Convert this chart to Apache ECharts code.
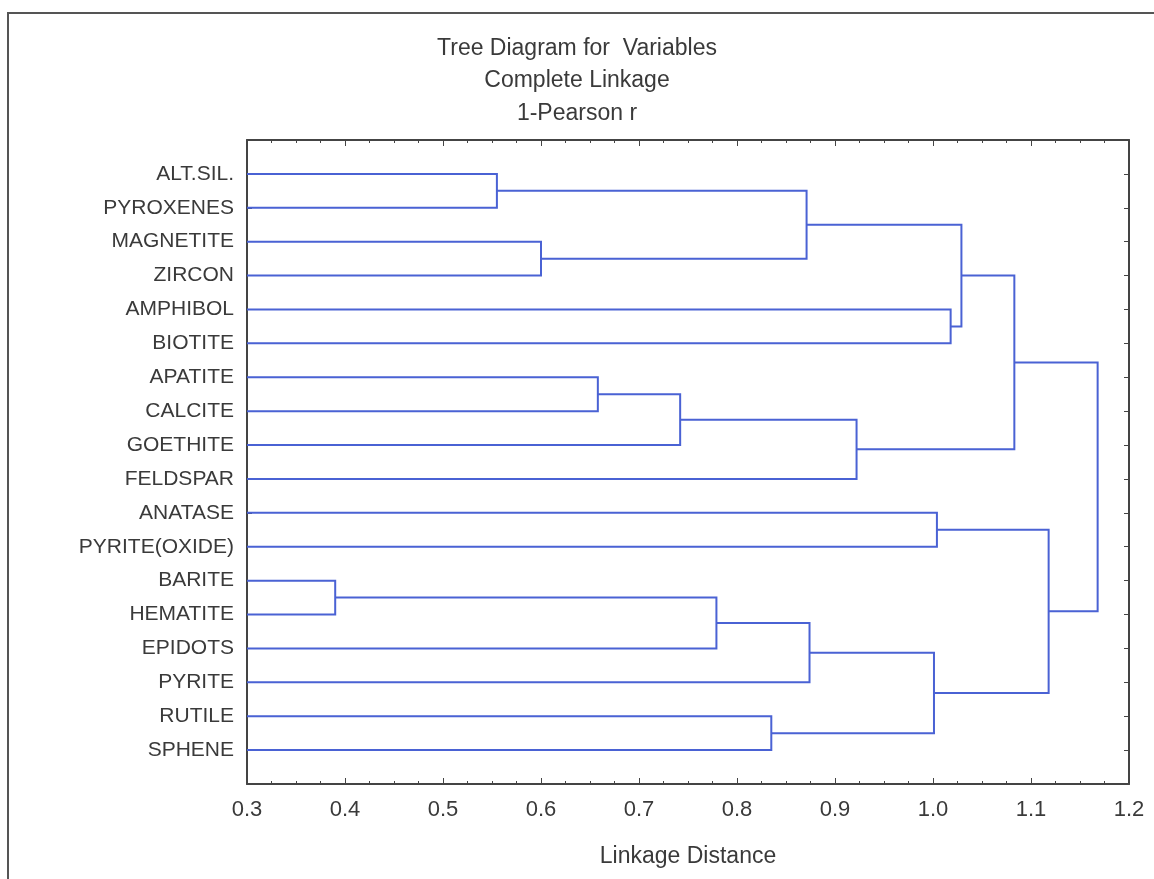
<!DOCTYPE html>
<html>
<head>
<meta charset="utf-8">
<script src="https://cdn.jsdelivr.net/npm/echarts@6/dist/echarts.min.js"></script>
<style>
  html, body { margin: 0; padding: 0; background: #fff; }
  #chart { width: 1154px; height: 879px; }
</style>
</head>
<body>
<div id="chart"></div>
<script>
// Leaves (top to bottom)
const leaves = ['ALT.SIL.', 'PYROXENES', 'MAGNETITE', 'ZIRCON', 'AMPHIBOL', 'BIOTITE',
  'APATITE', 'CALCITE', 'GOETHITE', 'FELDSPAR', 'ANATASE', 'PYRITE(OXIDE)',
  'BARITE', 'HEMATITE', 'EPIDOTS', 'PYRITE', 'RUTILE', 'SPHENE'];

// Merges: node ids 0..17 are leaves, merge i creates node 18+i
const mergeLeft   = [0, 2, 18, 4, 20, 6, 23, 24, 22, 10, 12, 28, 29, 16, 30, 27, 26];
const mergeRight  = [1, 3, 19, 5, 21, 7, 8, 9, 25, 11, 13, 14, 15, 17, 31, 32, 33];
const mergeHeight = [0.555, 0.600, 0.871, 1.018, 1.029, 0.658, 0.742, 0.922, 1.083,
  1.004, 0.390, 0.779, 0.874, 0.835, 1.001, 1.118, 1.168];

const xTicks = [0.3, 0.4, 0.5, 0.6, 0.7, 0.8, 0.9, 1.0, 1.1, 1.2];
const xMin = xTicks[0], xMax = xTicks[xTicks.length - 1];

// Build node positions
const nodeH = [], nodeY = [];
leaves.forEach((l, i) => { nodeH[i] = xMin; nodeY[i] = i; });
const segData = [];
mergeHeight.forEach((h, i) => {
  const a = mergeLeft[i], b = mergeRight[i];
  const id = leaves.length + i;
  nodeH[id] = h;
  nodeY[id] = (nodeY[a] + nodeY[b]) / 2;
  segData.push([nodeH[a], nodeY[a], h, nodeY[b], nodeH[b]]);
});

const textColor = '#3a3a3a';
const axisColor = '#444';
const font = 'Liberation Sans, Arial, sans-serif';
const lineColor = '#4a62d4';

const chart = echarts.init(document.getElementById('chart'));
chart.setOption({
  animation: false,
  backgroundColor: '#fff',
  title: {
    text: 'Tree Diagram for  Variables\nComplete Linkage\n1-Pearson r',
    left: 'center',
    top: 27,
    textStyle: { fontFamily: font, fontSize: 23, fontWeight: 'normal', color: textColor, lineHeight: 32.5 }
  },
  graphic: [{
    type: 'rect',
    shape: { x: 8, y: 13, width: 1160, height: 880 },
    style: { fill: 'none', stroke: '#555', lineWidth: 2 },
    silent: true
  }],
  grid: { left: 247, right: 25, top: 140, bottom: 95 },
  xAxis: [{
    type: 'value', min: xMin, max: xMax, interval: 0.1,
    position: 'bottom',
    name: 'Linkage Distance', nameLocation: 'middle', nameGap: 61,
    nameTextStyle: { fontFamily: font, fontSize: 23, color: textColor },
    axisLine: { show: true, onZero: false, lineStyle: { color: axisColor, width: 2 } },
    axisTick: { show: true, inside: true, length: 6, lineStyle: { color: axisColor } },
    minorTick: { show: true, splitNumber: 4, length: 3, lineStyle: { color: axisColor } },
    axisLabel: { margin: 15, fontFamily: font, fontSize: 22, color: textColor,
      formatter: v => v.toFixed(1) },
    splitLine: { show: false }
  }, {
    type: 'value', min: xMin, max: xMax, interval: 0.1,
    position: 'top',
    axisLine: { show: true, onZero: false, lineStyle: { color: axisColor, width: 2 } },
    axisTick: { show: true, inside: true, length: 6, lineStyle: { color: axisColor } },
    minorTick: { show: true, splitNumber: 4, length: 3, lineStyle: { color: axisColor } },
    axisLabel: { show: false },
    splitLine: { show: false }
  }],
  yAxis: [{
    type: 'value', min: -1, max: leaves.length, interval: 1, inverse: true,
    position: 'left',
    axisLine: { show: true, onZero: false, lineStyle: { color: axisColor, width: 2 } },
    axisTick: { show: true, inside: true, length: 5, lineStyle: { color: axisColor } },
    axisLabel: { margin: 13, fontFamily: font, fontSize: 21, color: textColor,
      formatter: v => (leaves[v] !== undefined ? leaves[v] : '') },
    splitLine: { show: false }
  }, {
    type: 'value', min: -1, max: leaves.length, interval: 1, inverse: true,
    position: 'right',
    axisLine: { show: true, onZero: false, lineStyle: { color: axisColor, width: 2 } },
    axisTick: { show: true, inside: true, length: 5, lineStyle: { color: axisColor } },
    axisLabel: { show: false },
    splitLine: { show: false }
  }],
  series: [{
    type: 'custom',
    xAxisIndex: 0, yAxisIndex: 0,
    data: segData,
    encode: { x: [0, 2, 4], y: [1, 3] },
    renderItem: (params, api) => {
      const hA = api.value(0), yA = api.value(1), hM = api.value(2), yB = api.value(3), hB = api.value(4);
      const pts = [api.coord([hA, yA]), api.coord([hM, yA]), api.coord([hM, yB]), api.coord([hB, yB])];
      return {
        type: 'polyline',
        shape: { points: pts },
        style: { stroke: lineColor, lineWidth: 2, fill: 'none' }
      };
    }
  }]
});
</script>
</body>
</html>
